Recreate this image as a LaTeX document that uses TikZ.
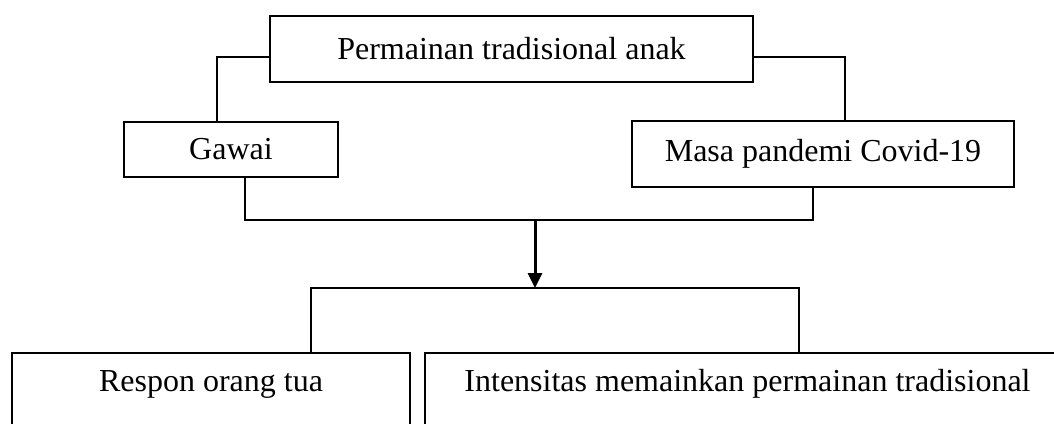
\documentclass[tikz,border=0pt]{standalone}
\usepackage{fontspec}
\setmainfont{Liberation Serif}
\usetikzlibrary{arrows.meta}
\begin{document}
\begin{tikzpicture}
 [
 x=1pt, y=-1pt,
 font=\fontsize{32}{38}\selectfont,
 box/.style={rectangle, draw=black, line width=2pt, inner sep=0pt},
 topbox/.style={box, minimum width=483pt, minimum height=66pt},
 leftbox/.style={box, minimum width=214pt, minimum height=55pt},
 rightbox/.style={box, minimum width=382pt, minimum height=66pt},
 bottombox/.style={box, anchor=north, inner ysep=14pt, text height=24pt, text depth=100pt},
 link/.style={draw=black, line width=1.5pt},
 arrowlink/.style={draw=black, line width=3pt, -{Triangle[length=15pt,width=14pt]}}
 ]
 \useasboundingbox (0,0) rectangle (1054,423);
 \clip (0,0) rectangle (1054,423);
 \node at (511.5,49) [topbox]   (game)   {Permainan tradisional anak};
 \node at (231,149.5) [leftbox] (gawai)  {Gawai};
 \node at (823,154) [rightbox]  (covid)  {Masa pandemi Covid-19};
 \node at (211,352) [bottombox, minimum width=398pt] (respon) {Respon orang tua};
 \node at (747.5,352) [bottombox, minimum width=645pt] (intens) {Intensitas memainkan permainan tradisional};
 \coordinate (mid) at (535,220);
 \coordinate (split) at (535,288);
 \draw[link] ([yshift=-8pt]game.west) -| ([xshift=-14pt]gawai.north);
 \draw[link] ([yshift=-8pt]game.east) -| ([xshift=22pt]covid.north);
 \draw[link] ([xshift=14pt]gawai.south) |- (mid) -| ([xshift=-10pt]covid.south);
 \draw[arrowlink] (mid) -- (split);
 \draw[link] ([xshift=100pt]respon.north) |- (split) -| ([xshift=51.5pt]intens.north);
\end{tikzpicture}
\end{document}
